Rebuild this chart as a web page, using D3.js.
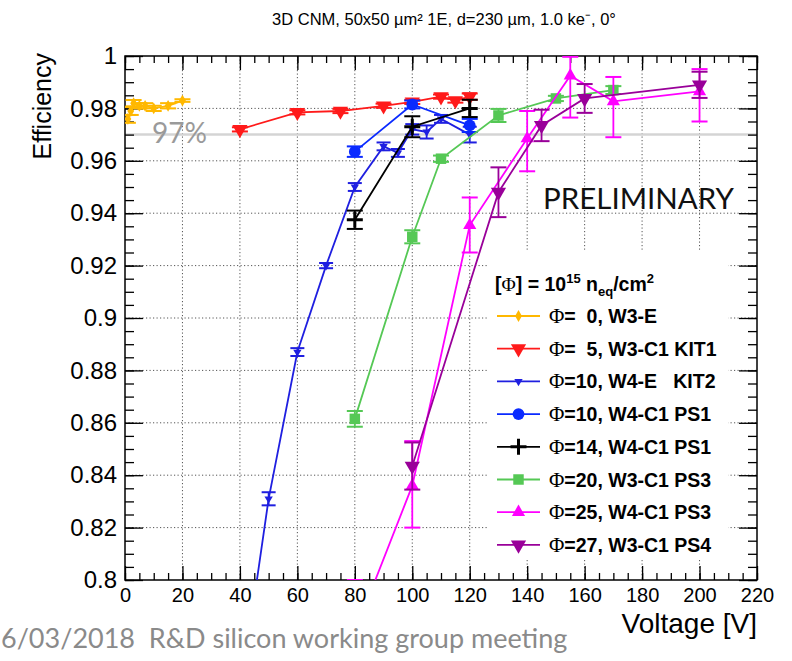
<!DOCTYPE html>
<html><head><meta charset="utf-8">
<script src="https://cdn.jsdelivr.net/npm/d3@7"></script>
<style>body{margin:0;background:#fff} svg{display:block}</style>
</head><body>
<svg id="c" width="792" height="661"></svg>
<script>
// ---------- data ----------
const xTicks = [0,20,40,60,80,100,120,140,160,180,200,220];
const yTicks = [0.8,0.82,0.84,0.86,0.88,0.9,0.92,0.94,0.96,0.98,1];
const yTickLabels = ["0.8","0.82","0.84","0.86","0.88","0.9","0.92","0.94","0.96","0.98","1"];

// Φ=0, W3-E
const v0 = [1,2,3,5,7,10,15,20];
const e0 = [0.976,0.979,0.982,0.981,0.981,0.980,0.981,0.983];
const er0 = [0.0015,0.0015,0.0012,0.001,0.001,0.001,0.001,0.0005];
// Φ=5, W3-C1 KIT1
const v1 = [40,60,75,90,100,110,115,120];
const e1 = [0.972,0.9785,0.979,0.981,0.9825,0.9845,0.983,0.9845];
const er1 = [0.0008,0.0008,0.0008,0.0008,0.0008,0.0008,0.0008,0.0012];
// Φ=10, W4-E KIT2
const v2 = [40,50,60,70,80,90,95,100,105,110,120];
const e2 = [0.755,0.831,0.887,0.920,0.950,0.9655,0.963,0.972,0.971,0.976,0.970];
const er2 = [0.0025,0.0025,0.0015,0.001,0.0015,0.0015,0.0015,0.002,0.0025,0.0015,0.003];
// Φ=10, W4-C1 PS1
const v3 = [80,100,120];
const e3 = [0.9635,0.9815,0.9735];
const er3 = [0.002,0.0015,0.0025];
// Φ=14, W4-C1 PS1
const v4 = [80,100,120];
const e4 = [0.9375,0.973,0.980];
const er4 = [0.0035,0.004,0.0033];
// Φ=20, W3-C1 PS3
const v5 = [80,100,110,130,150,170];
const e5 = [0.8615,0.931,0.9608,0.9773,0.9838,0.987];
const er5 = [0.003,0.0025,0.0012,0.0025,0.001,0.0015];
// Φ=25, W4-C1 PS3
const v6 = [80,100,120,140,155,170,200];
const e6 = [0.780,0.836,0.9354,0.9685,0.9925,0.9827,0.9865];
const er6Lo = [0.02,0.016,0.0104,0.0125,0.016,0.0137,0.0115];
const er6Hi = [0.02,0.017,0.0106,0.0105,0.0072,0.0093,0.0085];
// Φ=27, W3-C1 PS4
const v7 = [100,130,145,160,200];
const e7 = [0.8435,0.948,0.9735,0.9838,0.989];
const er7 = [0.009,0.0095,0.006,0.0055,0.005];

const legendLabels = ["=  0, W3-E","=  5, W3-C1 KIT1","=10, W4-E   KIT2","=10, W4-C1 PS1","=14, W4-C1 PS1","=20, W3-C1 PS3","=25, W4-C1 PS3","=27, W3-C1 PS4"];

const series = [
  {v:v0,e:e0,lo:er0,hi:er0,color:"#ffb800",marker:"diamond",size:40},
  {v:v1,e:e1,lo:er1,hi:er1,color:"#ff1a1a",marker:"tridown",size:100},
  {v:v2,e:e2,lo:er2,hi:er2,color:"#1f1fe0",marker:"tridown",size:30},
  {v:v3,e:e3,lo:er3,hi:er3,color:"#0a2aff",marker:"circle",size:110},
  {v:v4,e:e4,lo:er4,hi:er4,color:"#000000",marker:"plus",size:8},
  {v:v5,e:e5,lo:er5,hi:er5,color:"#55c855",marker:"square",size:110},
  {v:v6,e:e6,lo:er6Lo,hi:er6Hi,color:"#ff00ff",marker:"triup",size:75},
  {v:v7,e:e7,lo:er7,hi:er7,color:"#990099",marker:"tridown",size:100}
];

// ---------- drawing ----------
const svg = d3.select("#c");
const L=125, R=757, T=56, B=580;
const x = d3.scaleLinear().domain([0,220]).range([L,R]);
const y = d3.scaleLinear().domain([0.8,1]).range([B,T]);
const font = "'Liberation Sans', Arial, sans-serif";
const slideFont = "Lato, 'Open Sans', sans-serif";

svg.append("defs").append("clipPath").attr("id","clip")
  .append("rect").attr("x",L).attr("y",T).attr("width",R-L).attr("height",B-T);

// grid
const grid = svg.append("g").attr("stroke","#555").attr("stroke-dasharray","1.2,2.3").attr("stroke-width",1);
xTicks.slice(1,-1).forEach(t=>grid.append("line").attr("x1",x(t)).attr("x2",x(t)).attr("y1",T).attr("y2",B));
yTicks.slice(1,-1).forEach(t=>grid.append("line").attr("x1",L).attr("x2",R).attr("y1",y(t)).attr("y2",y(t)));

// 97% line
svg.append("line").attr("x1",L).attr("x2",R).attr("y1",y(0.97)).attr("y2",y(0.97))
  .attr("stroke","#d4d4d4").attr("stroke-width",2.5);
svg.append("text").attr("x",152).attr("y",143).attr("font-family",slideFont)
  .attr("font-size",28).attr("fill","#9a9a9a").text("97%");

// legend background
svg.append("rect").attr("x",488).attr("y",250).attr("width",240).attr("height",310).attr("fill","#fff");

// axes
const xMinor = d3.range(0,221,5);
const yMinor = d3.range(0,41).map(i=>0.8+i*0.005);
function styleAxis(g){ g.selectAll(".domain").remove(); g.selectAll("line").attr("stroke","#000").attr("stroke-width",1.3); }
svg.append("g").attr("transform",`translate(0,${B})`)
  .call(d3.axisBottom(x).tickValues(xMinor).tickSize(-7).tickFormat(""))
  .call(styleAxis);
svg.append("g").attr("transform",`translate(0,${B})`)
  .call(d3.axisBottom(x).tickValues(xTicks).tickSize(-14).tickPadding(8).tickFormat(d3.format("d")))
  .call(styleAxis)
  .call(g=>g.selectAll("text").attr("font-family",font).attr("font-size",20).attr("fill","#000"));
svg.append("g").attr("transform",`translate(0,${T})`)
  .call(d3.axisTop(x).tickValues(xMinor).tickSize(-7).tickFormat("")).call(styleAxis);
svg.append("g").attr("transform",`translate(0,${T})`)
  .call(d3.axisTop(x).tickValues(xTicks).tickSize(-14).tickFormat("")).call(styleAxis);
svg.append("g").attr("transform",`translate(${L},0)`)
  .call(d3.axisLeft(y).tickValues(yMinor).tickSize(-9).tickFormat("")).call(styleAxis);
svg.append("g").attr("transform",`translate(${L},0)`)
  .call(d3.axisLeft(y).tickValues(yTicks).tickSize(-18).tickPadding(8).tickFormat((d,i)=>yTickLabels[i]))
  .call(styleAxis)
  .call(g=>g.selectAll("text").attr("font-family",font).attr("font-size",24).attr("fill","#000"));
svg.append("g").attr("transform",`translate(${R},0)`)
  .call(d3.axisRight(y).tickValues(yMinor).tickSize(-9).tickFormat("")).call(styleAxis);
svg.append("g").attr("transform",`translate(${R},0)`)
  .call(d3.axisRight(y).tickValues(yTicks).tickSize(-18).tickFormat("")).call(styleAxis);

// frame
svg.append("rect").attr("x",L).attr("y",T).attr("width",R-L).attr("height",B-T)
  .attr("fill","none").attr("stroke","#000").attr("stroke-width",1.5);

// marker path generator
function markerPath(m,s){
  if(m==="plus"){ return `M${-s},0H${s}M0,${-s}V${s}`; }
  const sym = {diamond:d3.symbolDiamond,tridown:d3.symbolTriangle,triup:d3.symbolTriangle,circle:d3.symbolCircle,square:d3.symbolSquare}[m];
  return d3.symbol(sym,s)();
}
function drawMarker(g,m,s,color,cx,cy){
  const p = g.append("path").attr("d",markerPath(m,s)).attr("transform",`translate(${cx},${cy})`+(m==="tridown"?" rotate(180)":""));
  if(m==="plus") p.attr("stroke",color).attr("stroke-width",3).attr("fill","none");
  else p.attr("fill",color);
}

const plot = svg.append("g").attr("clip-path","url(#clip)");
const line = d3.line().x(d=>x(d[0])).y(d=>y(d[1]));
series.forEach(s=>{
  const g = plot.append("g");
  const pts = s.v.map((v,i)=>[v,s.e[i],s.lo[i],s.hi[i]]);
  g.append("path").attr("d",line(pts)).attr("fill","none").attr("stroke",s.color).attr("stroke-width",1.8);
  const cap = s.marker==="tridown"&&s.size<50 ? 7 : 8;
  pts.forEach(p=>{
    const cx=x(p[0]), y1=y(p[1]-p[2]), y2=y(p[1]+p[3]);
    g.append("line").attr("x1",cx).attr("x2",cx).attr("y1",y1).attr("y2",y2).attr("stroke",s.color).attr("stroke-width",1.8);
    [y1,y2].forEach(yy=>g.append("line").attr("x1",cx-cap).attr("x2",cx+cap).attr("y1",yy).attr("y2",yy).attr("stroke",s.color).attr("stroke-width",2));
    drawMarker(g,s.marker,s.size,s.color,cx,y(p[1]));
  });
});

// legend
const lg = svg.append("g").attr("font-family",font).attr("font-weight","bold").attr("font-size",19.5).attr("fill","#000");
const hdr = lg.append("text").attr("x",495).attr("y",291);
hdr.append("tspan").text("[");
hdr.append("tspan").attr("font-family","'Liberation Serif', serif").attr("font-weight","normal").text("Φ");
hdr.append("tspan").text("] = 10");
hdr.append("tspan").attr("dy",-8).attr("font-size",13).text("15");
hdr.append("tspan").attr("dy",8).text(" n");
hdr.append("tspan").attr("dy",5).attr("font-size",13).text("eq");
hdr.append("tspan").attr("dy",-5).text("/cm");
hdr.append("tspan").attr("dy",-8).attr("font-size",13).text("2");
legendLabels.forEach((lab,i)=>{
  const s = series[i];
  const yy = 316 + i*32.7;
  lg.append("line").attr("x1",497).attr("x2",540).attr("y1",yy).attr("y2",yy).attr("stroke",s.color).attr("stroke-width",1.8);
  drawMarker(lg,s.marker,s.size,s.color,518.5,yy);
  const t = lg.append("text").attr("x",549).attr("y",yy+7).style("white-space","pre");
  t.append("tspan").attr("font-family","'Liberation Serif', serif").attr("font-weight","normal").attr("font-size",21).text("Φ");
  t.append("tspan").text(lab);
});

// titles
svg.append("text").attr("x",444).attr("y",25).attr("text-anchor","middle")
  .attr("font-family",font).attr("font-size",16.5).attr("fill","#000")
  .text("3D CNM, 50x50 µm² 1E, d=230 µm, 1.0 ke⁻, 0°");

svg.append("text").attr("transform","translate(51,53) rotate(-90)").attr("text-anchor","end")
  .attr("font-family",font).attr("font-size",25).text("Efficiency");
svg.append("text").attr("x",757).attr("y",633).attr("text-anchor","end")
  .attr("font-family",font).attr("font-size",28).text("Voltage [V]");

svg.append("text").attr("x",543).attr("y",209).attr("font-family",slideFont)
  .attr("font-size",29.5).attr("fill","#111").text("PRELIMINARY");
svg.append("text").attr("x",1).attr("y",648).attr("font-family",slideFont)
  .attr("font-size",27).attr("fill","#8a8a8a").style("white-space","pre").text("6/03/2018  R&D silicon working group meeting");
</script>
</body></html>
